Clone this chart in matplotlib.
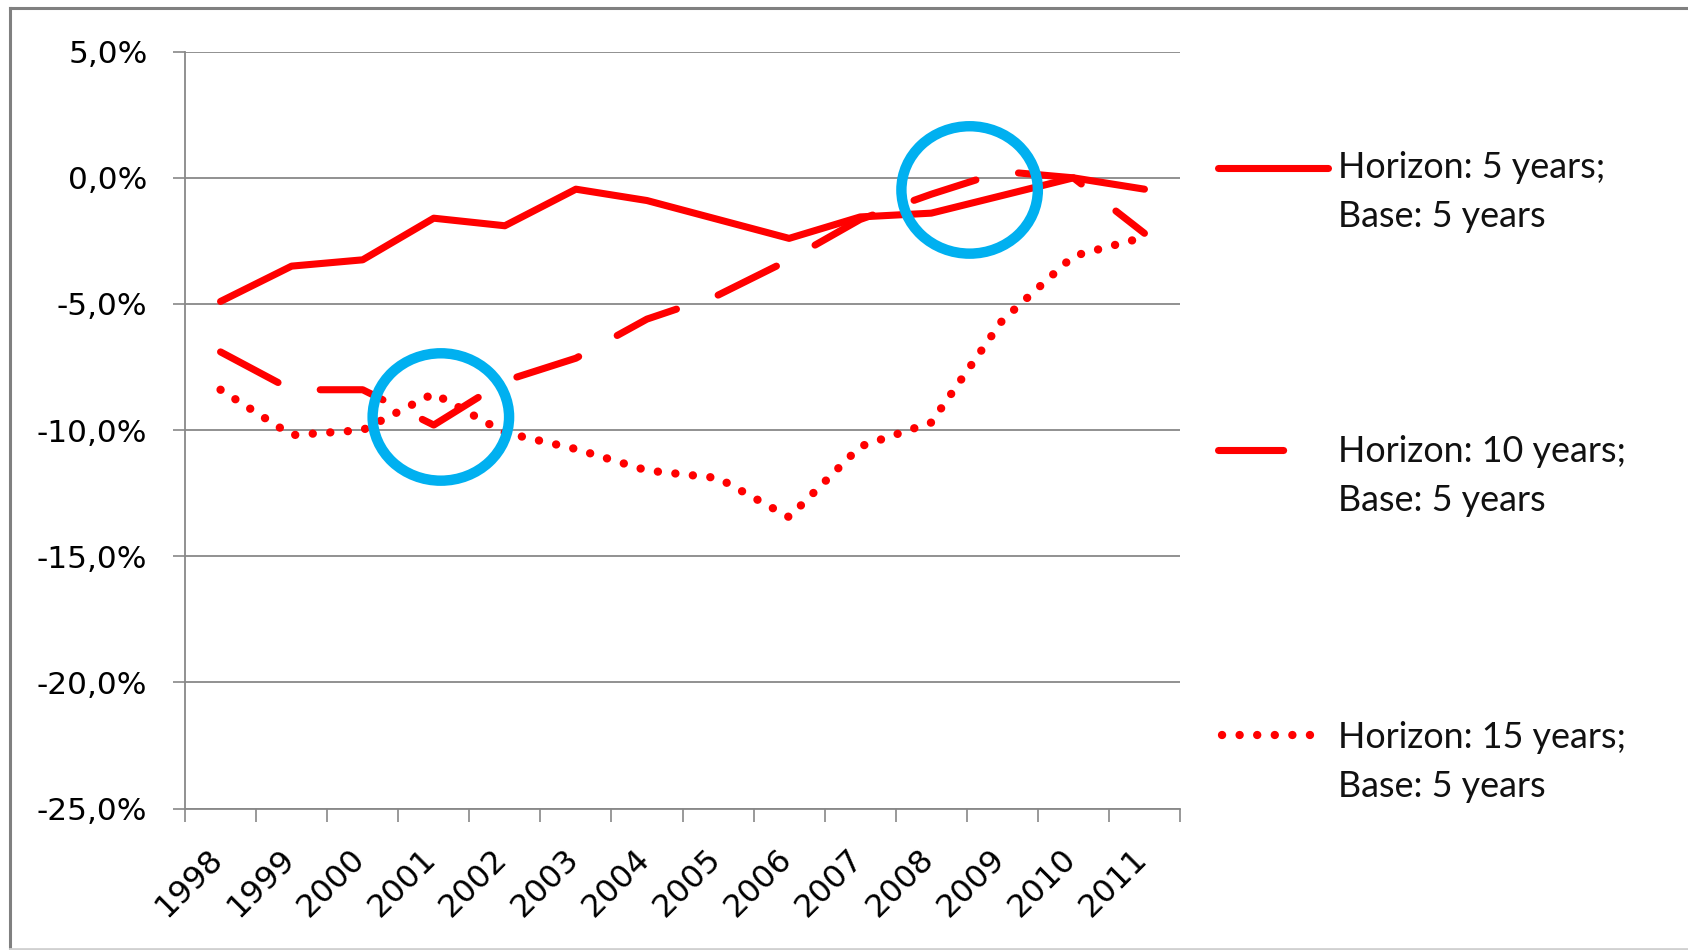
import matplotlib
matplotlib.use("Agg")
import matplotlib.pyplot as plt
import matplotlib.transforms as mtransforms
from matplotlib.lines import Line2D
from matplotlib.patches import Ellipse

years = ["1998", "1999", "2000", "2001", "2002", "2003", "2004",
         "2005", "2006", "2007", "2008", "2009", "2010", "2011"]

# relative error (%) per horizon, base window 5 years
h5 = [-4.9, -3.5, -3.25, -1.6, -1.9, -0.45, -0.9, -1.65, -2.4, -1.55, -1.4, -0.7, 0.0, -0.45]
h10 = [-6.9, -8.4, -8.4, -9.8, -8.05, -7.15, -5.6, -4.65, -3.25, -1.65, -0.65, 0.25, 0.0, -2.2]
h15 = [-8.4, -10.2, -10.0, -8.55, -10.1, -10.75, -11.6, -11.9, -13.45, -10.65, -9.7, -5.65, -3.1, -2.35]

labels = ["Horizon: 5 years;", "Horizon: 10 years;", "Horizon: 15 years;"]
base_label = "Base: 5 years"

# highlighted spots (x position in categories, y in %)
circle_x = [3.1, 10.54]
circle_y = [-9.48, -0.48]

W, H = 1688, 950
RED = "#ff0000"
GRID = "#888888"


def fx(px):
    return px / W


def fy(py):
    return 1 - py / H


fig = plt.figure(figsize=(W / 100, H / 100), dpi=100)
ax = fig.add_axes([fx(185), fy(808.5), fx(1180) - fx(185), fy(51.7) - fy(808.5)])

x = list(range(len(years)))
styles = [
    dict(linestyle="-", lw=5.1, solid_capstyle="round"),
    dict(linestyle=(0, (9.2, 6.2)), lw=5.1, dash_capstyle="round"),
    dict(linestyle=(0, (0.01, 2.1)), lw=6.0, dash_capstyle="round"),
]
for series, st in zip([h5, h10, h15], styles):
    ax.plot(x, series, color=RED, solid_joinstyle="round", dash_joinstyle="round",
            zorder=3, clip_on=False, **st)

for cx, cy in zip(circle_x, circle_y):
    ax.add_patch(Ellipse((cx, cy), 1.92, 5.05, fill=False, edgecolor="#00b0f0",
                         lw=7.5, zorder=4, clip_on=False))

ax.set_xlim(-0.5, len(years) - 0.5)
ax.set_ylim(-25, 5)
ax.set_yticks(range(-25, 6, 5))
ax.set_yticklabels([f"{v:.1f}%".replace(".", ",") for v in range(-25, 6, 5)])
ax.yaxis.grid(True, color=GRID, lw=1.3)
ax.set_axisbelow(True)

ax.set_xticks(x)
ax.set_xticklabels(years, rotation=45, ha="right", va="top")
ax.set_xticks([i - 0.5 for i in range(len(years) + 1)], minor=True)
ax.tick_params(axis="x", which="major", length=0, pad=25, labelsize=23)
ax.tick_params(axis="x", which="minor", length=9, width=1.2, color=GRID)
ax.tick_params(axis="y", length=9, width=1.2, color=GRID, pad=18, labelsize=22.5)
shift = mtransforms.ScaledTranslation(9 / 100, 0, fig.dpi_scale_trans)
for lab in ax.get_xticklabels():
    lab.set_transform(lab.get_transform() + shift)

for side in ["top", "right"]:
    ax.spines[side].set_visible(False)
for side in ["left", "bottom"]:
    ax.spines[side].set_color(GRID)
    ax.spines[side].set_linewidth(1.3)

# legend drawn by hand, one block per series
sample_y = [168, 450, 735]
sample_x = [(1218, 1328), (1218, 1295), (1222, 1318)]
base_y = [178, 462, 748]
for lab, st, sy, (x0, x1), by in zip(labels, styles, sample_y, sample_x, base_y):
    fig.add_artist(Line2D([fx(x0), fx(x1)], [fy(sy), fy(sy)], color=RED,
                          transform=fig.transFigure, **st))
    fig.text(fx(1338), fy(by), lab, fontsize=25.8, family="Lato", va="baseline",
             color="#111111")
    fig.text(fx(1338), fy(by + 49), base_label, fontsize=25.8, family="Lato",
             va="baseline", color="#111111")

# outer frame
fig.add_artist(Line2D([fx(10), 1], [fy(8), fy(8)], color="#808080", lw=2.2,
                      transform=fig.transFigure))
fig.add_artist(Line2D([fx(10), fx(10)], [fy(8), 0], color="#808080", lw=2.2,
                      transform=fig.transFigure))
fig.add_artist(Line2D([fx(10), 1], [fy(948.5), fy(948.5)], color="#d0d0d0", lw=2,
                      transform=fig.transFigure))

fig.savefig("out.png", dpi=100)
